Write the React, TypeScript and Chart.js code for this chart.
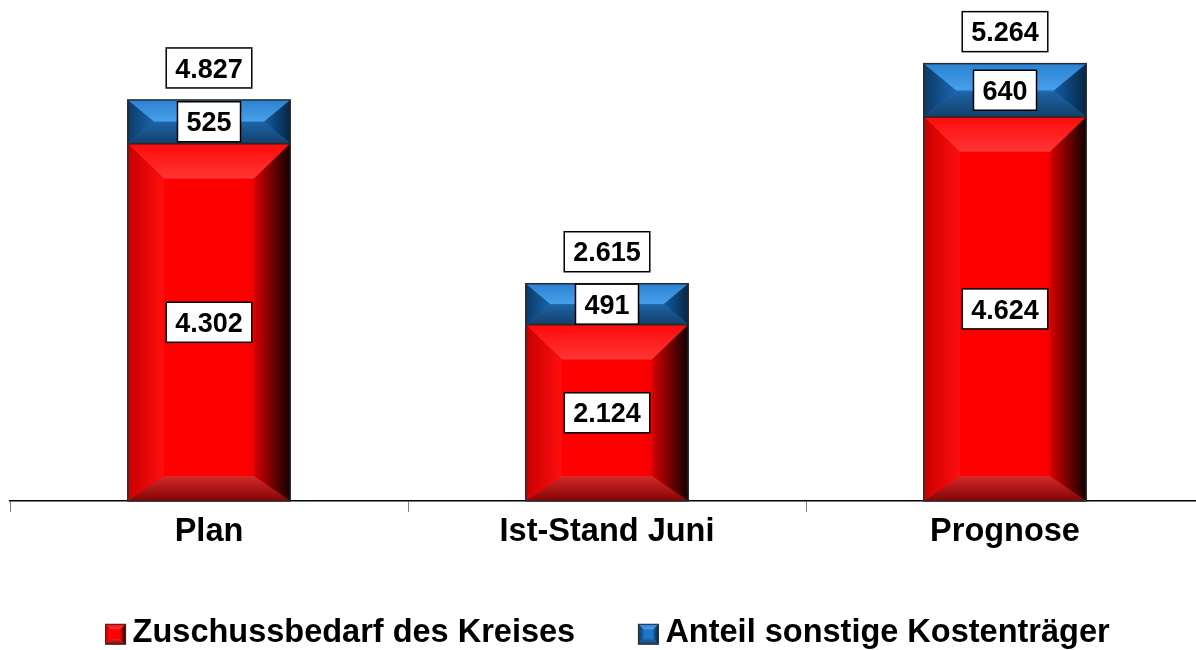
import React, { useEffect, useRef } from 'react';
import { Chart, registerables } from 'chart.js';

Chart.register(...registerables);

const categories = ['Plan', 'Ist-Stand Juni', 'Prognose'];
const zuschussValues = [4302, 2124, 4624];
const sonstigeValues = [525, 491, 640];
const totalValues = [4827, 2615, 5264];
const seriesNames = ['Zuschussbedarf des Kreises', 'Anteil sonstige Kostenträger'];

const FONT = '"Liberation Sans", Arial, Helvetica, sans-serif';
const LABEL_SIZE = 32.5;
const LEGEND_BOX_W = 12;

type Pal = {
  center: [number, string][];
  topOuter: string; topInner: string;
  bottomOuter: string; bottomInner: string;
  leftOuter: string; leftInner: string;
  rightOuter: string; rightInner: string;
};

const RED: Pal = {
  center: [[0, '#f00000'], [0.12, '#ff0000'], [0.7, '#ff0000'], [1, '#d00000']],
  topOuter: '#ff0a0a', topInner: '#ff3535',
  bottomOuter: '#840404', bottomInner: '#d42a2a',
  leftOuter: '#c80000', leftInner: '#ff0e0e',
  rightOuter: '#100000', rightInner: '#d40000',
};
const BLUE: Pal = {
  center: [[0, '#1f74c4'], [1, '#1f74c4']],
  topOuter: '#2a82d4', topInner: '#49a0ea',
  bottomOuter: '#12406c', bottomInner: '#1f64a6',
  leftOuter: '#0c3a66', leftInner: '#1765ae',
  rightOuter: '#072642', rightInner: '#135da2',
};
const PALS = [RED, BLUE];

function fmt(n: number): string {
  return String(n).replace(/\B(?=(\d{3})+(?!\d))/g, '.');
}

function poly(ctx: CanvasRenderingContext2D, pts: number[][]) {
  ctx.beginPath();
  ctx.moveTo(pts[0][0], pts[0][1]);
  for (let i = 1; i < pts.length; i++) ctx.lineTo(pts[i][0], pts[i][1]);
  ctx.closePath();
}

function drawBevel(ctx: CanvasRenderingContext2D, x0: number, y0: number, x1: number, y1: number, p: Pal, big: boolean) {
  const w = x1 - x0, h = y1 - y0;
  if (h <= 0 || w <= 0) return;
  const ds = Math.min(big ? 36 : 5, h * 0.6, w / 2);
  const dt = Math.min(big ? 35 : 5, h / 2);
  const db = Math.min(big ? 25 : 5, h / 2);
  ctx.save();
  let g = ctx.createLinearGradient(x0, 0, x1, 0);
  p.center.forEach(([o, c]) => g.addColorStop(o, c));
  ctx.fillStyle = g;
  ctx.fillRect(x0, y0, w, h);
  poly(ctx, [[x0, y0], [x1, y0], [x1 - ds, y0 + dt], [x0 + ds, y0 + dt]]);
  g = ctx.createLinearGradient(0, y0, 0, y0 + dt);
  g.addColorStop(0, p.topOuter); g.addColorStop(1, p.topInner);
  ctx.fillStyle = g; ctx.fill();
  poly(ctx, [[x0, y1], [x1, y1], [x1 - ds, y1 - db], [x0 + ds, y1 - db]]);
  g = ctx.createLinearGradient(0, y1, 0, y1 - db);
  g.addColorStop(0, p.bottomOuter); g.addColorStop(1, p.bottomInner);
  ctx.fillStyle = g; ctx.fill();
  poly(ctx, [[x0, y0], [x0 + ds, y0 + dt], [x0 + ds, y1 - db], [x0, y1]]);
  g = ctx.createLinearGradient(x0, 0, x0 + ds, 0);
  g.addColorStop(0, p.leftOuter); g.addColorStop(1, p.leftInner);
  ctx.fillStyle = g; ctx.fill();
  poly(ctx, [[x1, y0], [x1 - ds, y0 + dt], [x1 - ds, y1 - db], [x1, y1]]);
  g = ctx.createLinearGradient(x1, 0, x1 - ds, 0);
  g.addColorStop(0, p.rightOuter); g.addColorStop(1, p.rightInner);
  ctx.fillStyle = g; ctx.fill();
  ctx.strokeStyle = '#2a2a2a';
  ctx.lineWidth = big ? 1.5 : 1;
  ctx.strokeRect(x0, y0, w, h);
  ctx.restore();
}

function drawValueBox(ctx: CanvasRenderingContext2D, text: string, cx: number, cy: number) {
  ctx.save();
  ctx.font = `bold 27px ${FONT}`;
  const tw = ctx.measureText(text).width;
  const bw = tw + 18, bh = 40;
  ctx.fillStyle = '#ffffff';
  ctx.fillRect(cx - bw / 2, cy - bh / 2, bw, bh);
  ctx.strokeStyle = '#000000';
  ctx.lineWidth = 1.5;
  ctx.strokeRect(cx - bw / 2, cy - bh / 2, bw, bh);
  ctx.fillStyle = '#000000';
  ctx.textAlign = 'center';
  ctx.textBaseline = 'alphabetic';
  ctx.fillText(text, cx, cy + 9.7);
  ctx.restore();
}

const bevelPlugin = {
  id: 'bevelLabels',
  afterDatasetsDraw(chart: any) {
    const ctx = chart.ctx as CanvasRenderingContext2D;
    chart.data.datasets.forEach((ds: any, di: number) => {
      const meta = chart.getDatasetMeta(di);
      meta.data.forEach((el: any) => {
        const { x, y, base, width } = el.getProps(['x', 'y', 'base', 'width'], true);
        drawBevel(ctx, x - width / 2, Math.min(y, base), x + width / 2, Math.max(y, base), PALS[di], true);
      });
    });
    chart.data.datasets.forEach((ds: any, di: number) => {
      const meta = chart.getDatasetMeta(di);
      meta.data.forEach((el: any, i: number) => {
        const { x, y, base } = el.getProps(['x', 'y', 'base'], true);
        drawValueBox(ctx, fmt(ds.data[i]), x, (y + base) / 2);
      });
    });
    const topMeta = chart.getDatasetMeta(chart.data.datasets.length - 1);
    topMeta.data.forEach((el: any, i: number) => {
      const { x, y } = el.getProps(['x', 'y'], true);
      drawValueBox(ctx, fmt(totalValues[i]), x, y - 32);
    });
  },
  afterDraw(chart: any) {
    const legend = chart.legend;
    if (!legend || !legend.legendHitBoxes) return;
    const ctx = chart.ctx as CanvasRenderingContext2D;
    legend.legendHitBoxes.forEach((hb: any, i: number) => {
      const textX = hb.left + LEGEND_BOX_W + LABEL_SIZE / 2;
      const left = textX - 27;
      const top = hb.top + (hb.height - 20) / 2 + 1;
      ctx.save();
      ctx.fillStyle = '#ffffff';
      ctx.fillRect(hb.left - 1, top - 3, LEGEND_BOX_W + 2, 26);
      ctx.restore();
      drawBevel(ctx, left, top, left + 20, top + 20, PALS[i], false);
    });
  },
};

export default function App() {
  const canvasRef = useRef<HTMLCanvasElement | null>(null);

  useEffect(() => {
    document.body.style.margin = '0';
    const canvas = canvasRef.current;
    if (!canvas) return;
    const chart = new Chart(canvas, {
      type: 'bar',
      data: {
        labels: categories,
        datasets: [
          {
            label: seriesNames[0],
            data: zuschussValues,
            backgroundColor: '#ff0000',
            borderWidth: 0,
            barPercentage: 0.408,
            categoryPercentage: 1,
          },
          {
            label: seriesNames[1],
            data: sonstigeValues,
            backgroundColor: '#1f74c4',
            borderWidth: 0,
            barPercentage: 0.408,
            categoryPercentage: 1,
          },
        ],
      },
      options: {
        responsive: false,
        animation: false,
        devicePixelRatio: 1,
        layout: { padding: { left: 10, right: 6, top: 0, bottom: 0 } },
        scales: {
          x: {
            stacked: true,
            grid: {
              display: true,
              drawOnChartArea: false,
              drawTicks: true,
              tickLength: 11,
              color: '#808080',
              lineWidth: 1,
              offset: true,
            },
            border: { display: true, color: '#000000', width: 1.5 },
            ticks: {
              color: '#000000',
              font: { family: FONT, size: LABEL_SIZE, weight: 'bold' },
              padding: 1,
              maxRotation: 0,
              autoSkip: false,
            },
            afterFit: (s: any) => { s.height = 54; },
          },
          y: { stacked: true, display: false, min: 0, max: 6030 },
        },
        plugins: {
          legend: {
            position: 'bottom',
            maxHeight: 95,
            labels: {
              boxWidth: LEGEND_BOX_W,
              boxHeight: 20,
              padding: 62,
              color: '#000000',
              font: { family: FONT, size: LABEL_SIZE, weight: 'bold' },
            },
          },
          tooltip: { enabled: false },
        },
      } as any,
      plugins: [bevelPlugin],
    });
    return () => chart.destroy();
  }, []);

  return (
    <div style={{ width: 1196, height: 650, overflow: 'hidden', background: '#ffffff' }}>
      <canvas ref={canvasRef} width={1210} height={650} style={{ display: 'block' }} />
    </div>
  );
}
